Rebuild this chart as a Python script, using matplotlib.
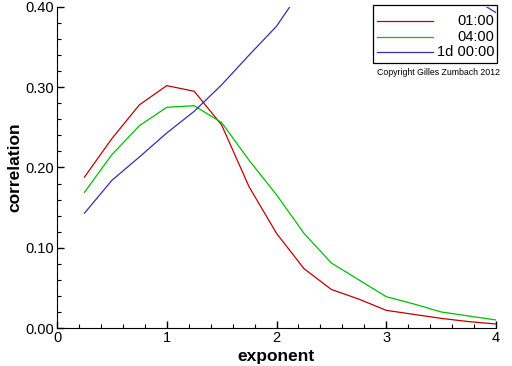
import matplotlib
matplotlib.use("Agg")
import matplotlib.pyplot as plt
from matplotlib.patches import Rectangle
from matplotlib.ticker import MultipleLocator, FormatStrFormatter

plt.rcParams['font.family'] = ['Liberation Sans', 'DejaVu Sans']

# exponent values
exponent = [0.25, 0.5, 0.75, 1.0, 1.25, 1.5, 1.75, 2.0, 2.25, 2.5, 2.75, 3.0, 3.25, 3.5, 3.75, 4.0]

# correlation per time horizon
corr_0100 = [0.188, 0.236, 0.278, 0.302, 0.295, 0.253, 0.176, 0.118, 0.074, 0.048,
             0.036, 0.022, 0.017, 0.012, 0.008, 0.005]
corr_0400 = [0.169, 0.216, 0.252, 0.275, 0.277, 0.256, 0.209, 0.166, 0.118, 0.081,
             0.060, 0.039, 0.030, 0.020, 0.015, 0.010]
corr_1d = [0.143, 0.184, 0.213, 0.243, 0.270, 0.303, 0.340, 0.376, 0.426, 0.465,
           0.490, 0.500, 0.490, 0.460, 0.414, 0.393]

labels = ["01:00", "04:00", "1d 00:00"]
colors = ["#c00000", "#00c000", "#3030b0"]
series = [corr_0100, corr_0400, corr_1d]

fig = plt.figure(figsize=(5.12, 3.66), dpi=100)
ax = fig.add_axes([57 / 512, 38 / 366, 439 / 512, 321 / 366])

for y, c in zip(series, colors):
    ax.plot(exponent, y, color=c, linewidth=0.9, zorder=3)

ax.set_xlim(0, 4)
ax.set_ylim(0, 0.4)
ax.xaxis.set_major_locator(MultipleLocator(1))
ax.xaxis.set_minor_locator(MultipleLocator(0.2))
ax.yaxis.set_major_locator(MultipleLocator(0.1))
ax.yaxis.set_minor_locator(MultipleLocator(0.02))
ax.yaxis.set_major_formatter(FormatStrFormatter('%.2f'))
ax.xaxis.set_major_formatter(FormatStrFormatter('%d'))
ax.tick_params(which='major', direction='in', length=5, width=1, labelsize=10.5, pad=2)
ax.tick_params(which='minor', direction='in', length=3, width=0.8)
ax.spines['top'].set_visible(False)
ax.spines['right'].set_visible(False)
ax.set_xlabel("exponent", fontsize=12.5, fontweight='bold', labelpad=3)
ax.set_ylabel("correlation", fontsize=12.5, fontweight='bold', labelpad=2)

# legend box drawn by hand (labels right-aligned as in the original)
ax.add_patch(Rectangle((0.72, 0.8255), 0.282, 0.181, transform=ax.transAxes,
                       facecolor='white', edgecolor='black', linewidth=0.9,
                       clip_on=False, zorder=2))
legend_y = [0.956, 0.9065, 0.859]
for ly, lab, c in zip(legend_y, labels, colors):
    ax.plot([0.729, 0.856], [ly, ly], color=c, linewidth=0.9,
            transform=ax.transAxes, clip_on=False, zorder=2.5)
    ax.text(0.997, ly, lab, transform=ax.transAxes, ha='right', va='center',
            fontsize=10.5, zorder=2.5)

ax.text(1.009, 0.797, "Copyright Gilles Zumbach 2012", transform=ax.transAxes,
        ha='right', va='center', fontsize=6.3)

fig.savefig("out.png", dpi=100)
